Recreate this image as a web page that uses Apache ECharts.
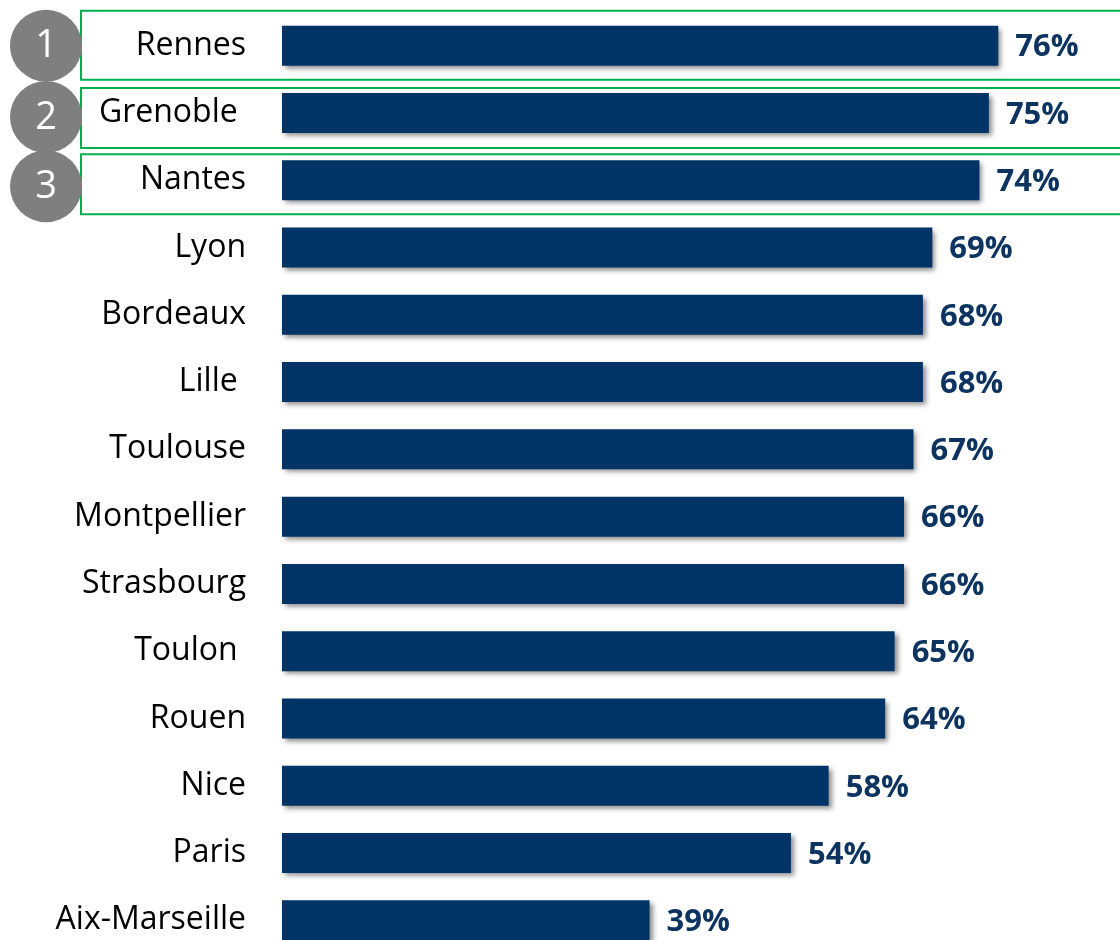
<!DOCTYPE html>
<html>
<head>
<meta charset="utf-8">
<script src="https://cdn.jsdelivr.net/npm/echarts@6/dist/echarts.min.js"></script>
<style>
  html, body { margin: 0; padding: 0; background: #fff; }
  #chart { width: 1120px; height: 940px; }
</style>
</head>
<body>
<div id="chart"></div>
<script>
// villes (les espaces finaux viennent du tableau d'origine)
const cities = ['Rennes', 'Grenoble ', 'Nantes', 'Lyon', 'Bordeaux', 'Lille ', 'Toulouse', 'Montpellier', 'Strasbourg', 'Toulon ', 'Rouen', 'Nice', 'Paris', 'Aix-Marseille']
const rates = [76, 75, 74, 69, 68, 68, 67, 66, 66, 65, 64, 58, 54, 39]
const podium = ['1', '2', '3']

const chart = echarts.init(document.getElementById('chart'))

const option = {
  animation: false,
  grid: {
    left: 282,
    top: 12,
    width: 754,
    height: 942,
    outerBoundsMode: 'none'
  },
  xAxis: {
    type: 'value',
    min: 0,
    max: 80,
    show: false
  },
  yAxis: {
    type: 'category',
    data: cities,
    inverse: true,
    axisLine: { show: false },
    axisTick: { show: false },
    axisLabel: {
      margin: 36,
      color: '#000',
      fontFamily: 'Open Sans',
      fontSize: 32,
      padding: [4, 0, 0, 0]
    }
  },
  series: [
    {
      type: 'bar',
      data: rates,
      barWidth: 40,
      itemStyle: {
        color: '#003366',
        shadowColor: 'rgba(0,0,0,0.45)',
        shadowBlur: 5,
        shadowOffsetX: 3,
        shadowOffsetY: 3
      },
      label: {
        show: true,
        position: 'right',
        distance: 17,
        offset: [0, 2],
        formatter: '{c}%',
        color: '#0d3461',
        fontFamily: 'Open Sans',
        fontWeight: 'bold',
        fontSize: 31
      }
    }
  ]
}
chart.setOption(option)

// cadres verts + pastilles du podium, placés à partir de l'axe
const boxOffsets = [[-35, 34], [-25, 35], [-26, 34]]
const circleShift = [0, 4, 6]
const elements = []
podium.forEach((n, i) => {
  const y = chart.convertToPixel({ yAxisIndex: 0 }, cities[i])
  elements.push({
    type: 'rect',
    shape: { x: 81, y: y + boxOffsets[i][0], width: 1060, height: boxOffsets[i][1] - boxOffsets[i][0] },
    style: { fill: 'none', stroke: '#00b050', lineWidth: 2 },
    z: 1
  })
  elements.push({
    type: 'circle',
    shape: { cx: 46, cy: y + circleShift[i], r: 36 },
    style: { fill: '#7f7f7f' },
    z: 10
  })
  elements.push({
    type: 'text',
    x: 46,
    y: y + circleShift[i] + 1,
    style: {
      text: n,
      fill: '#fff',
      font: '38px "Open Sans"',
      align: 'center',
      verticalAlign: 'middle'
    },
    z: 11
  })
})
chart.setOption({ graphic: elements })
</script>
</body>
</html>
